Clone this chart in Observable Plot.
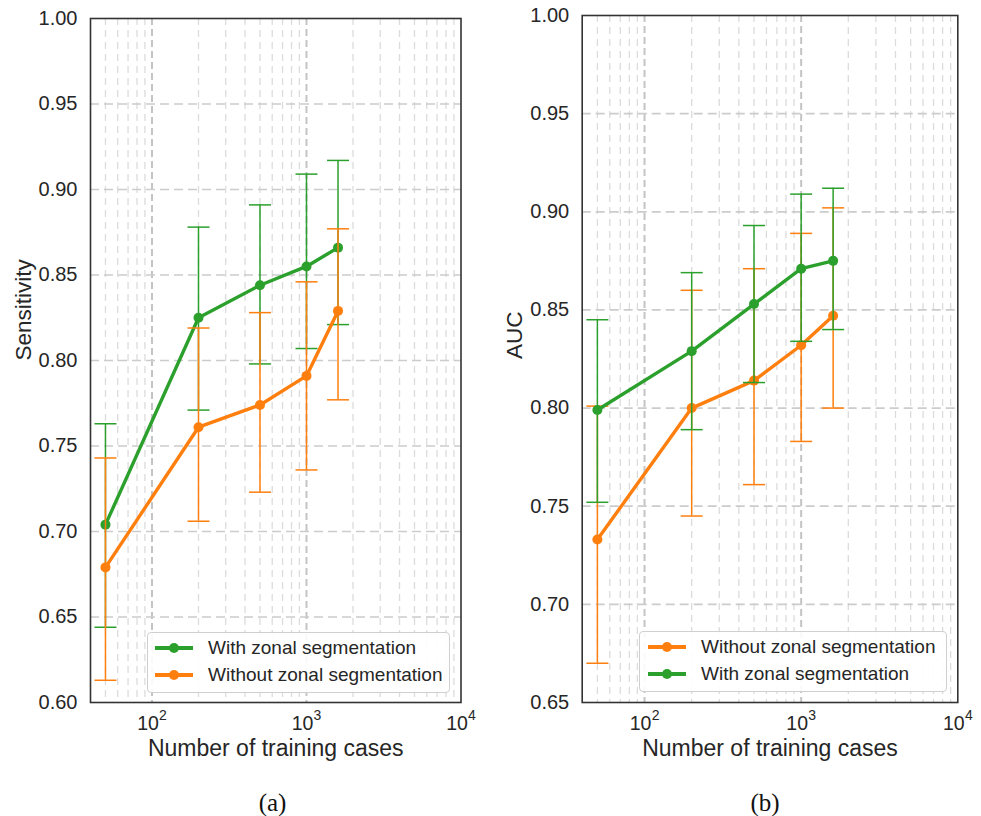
<!DOCTYPE html>
<html>
<head>
<meta charset="utf-8">
<script src="https://cdn.jsdelivr.net/npm/d3@7"></script>
<script src="https://cdn.jsdelivr.net/npm/@observablehq/plot@0.6"></script>
<style>
  body { margin: 0; background: white; }
  #fig { position: relative; width: 981px; height: 816px; overflow: hidden; font-family: 'Liberation Sans', Arial, sans-serif; }
  .panel { position: absolute; top: 0; }
  .legend { position: absolute; border: 1px solid #d0d0d0; border-radius: 4px; background: rgba(255,255,255,0.9); box-sizing: border-box; }
  .legrow { position: absolute; left: 0; height: 20px; font-size: 19px; color: #262626; white-space: nowrap; }
  .legrow svg { position: absolute; top: 0; }
  .legrow span { position: absolute; top: -1px; line-height: 22px; }
  .cap { position: absolute; top: 788px; line-height: 30px; font-family: 'Liberation Serif', 'Times New Roman', serif; font-size: 25px; color: #111; transform: translateX(-50%); }
</style>
</head>
<body>
<div id="fig"></div>
<script>
// ---------- data ----------
const nCases = [50, 200, 500, 1000, 1600];

// (a) Sensitivity
const sensWith    = [0.704, 0.825, 0.844, 0.855, 0.866];
const sensWithLo  = [0.644, 0.771, 0.798, 0.807, 0.821];
const sensWithHi  = [0.763, 0.878, 0.891, 0.909, 0.917];
const sensWithout   = [0.679, 0.761, 0.774, 0.791, 0.829];
const sensWithoutLo = [0.613, 0.706, 0.723, 0.736, 0.777];
const sensWithoutHi = [0.743, 0.819, 0.828, 0.846, 0.877];

// (b) AUC
const aucWith    = [0.799, 0.829, 0.853, 0.871, 0.875];
const aucWithLo  = [0.752, 0.789, 0.813, 0.834, 0.840];
const aucWithHi  = [0.845, 0.869, 0.893, 0.909, 0.912];
const aucWithout   = [0.733, 0.800, 0.814, 0.832, 0.847];
const aucWithoutLo = [0.670, 0.745, 0.761, 0.783, 0.800];
const aucWithoutHi = [0.801, 0.860, 0.871, 0.889, 0.902];

const sensTicks = [0.60, 0.65, 0.70, 0.75, 0.80, 0.85, 0.90, 0.95, 1.00];
const aucTicks  = [0.65, 0.70, 0.75, 0.80, 0.85, 0.90, 0.95, 1.00];
const xMajor = [100, 1000, 10000];
const xMinor = [50, 60, 70, 80, 90, 200, 300, 400, 500, 600, 700, 800, 900,
                2000, 3000, 4000, 5000, 6000, 7000, 8000, 9000];

const labelWith = "With zonal segmentation";
const labelWithout = "Without zonal segmentation";
const GREEN = "#2ca02c", ORANGE = "#ff7f0e";

// ---------- helpers ----------
function rows(mean, lo, hi) {
  return nCases.map((n, i) => ({n, v: mean[i], lo: lo[i], hi: hi[i]}));
}
const capSymbol = { draw(ctx) { ctx.moveTo(-11, 0); ctx.lineTo(11, 0); } };

function seriesMarks(data, color) {
  return [
    Plot.ruleX(data, {x: "n", y1: "lo", y2: "hi", stroke: color, strokeWidth: 1.5}),
    Plot.dot(data, {x: "n", y: "lo", symbol: capSymbol, stroke: color, strokeWidth: 1.5, fill: "none"}),
    Plot.dot(data, {x: "n", y: "hi", symbol: capSymbol, stroke: color, strokeWidth: 1.5, fill: "none"}),
    Plot.line(data, {x: "n", y: "v", stroke: color, strokeWidth: 3.4}),
    Plot.dot(data, {x: "n", y: "v", r: 5, fill: color, stroke: "none"})
  ];
}

function panel({width, ml, mr, mt, yDomain, yTicks, ylabel, series}) {
  const bottom = 702;
  return Plot.plot({
    width, height: 816,
    marginLeft: ml, marginRight: mr, marginTop: mt, marginBottom: 816 - bottom,
    x: {type: "log", domain: [40, 10000], axis: null},
    y: {domain: yDomain, axis: null},
    style: {fontFamily: "'Liberation Sans', Arial, sans-serif", color: "#262626", background: "transparent", overflow: "visible"},
    marks: [
      Plot.ruleX(xMinor, {stroke: "#dcdcdc", strokeWidth: 1.3, strokeDasharray: "7,5"}),
      Plot.ruleX(xMajor.slice(0, 2), {stroke: "#c4c4c4", strokeWidth: 2, strokeDasharray: "7,4"}),
      Plot.ruleY(yTicks.slice(1, -1), {stroke: "#cccccc", strokeWidth: 1.7, strokeDasharray: "9,5"}),
      Plot.axisY({ticks: yTicks, tickFormat: d => d.toFixed(2), tickSize: 0, tickPadding: 13, fontSize: 20, label: null}),
      Plot.text(xMajor, {x: d => d, text: () => "10", frameAnchor: "bottom", dy: 27, dx: -4, fontSize: 19.5}),
      Plot.text(xMajor, {x: d => d, text: d => String(Math.round(Math.log10(d))), frameAnchor: "bottom", dy: 17, dx: 11, fontSize: 14}),
      Plot.text([ylabel], {text: d => d, frameAnchor: "left", rotate: -90, dx: -67, fontSize: 22.5}),
      Plot.text(["Number of training cases"], {text: d => d, frameAnchor: "bottom", dy: 53, fontSize: 23}),
      ...series.flatMap(s => seriesMarks(s.data, s.color)),
      Plot.frame({stroke: "#333", strokeWidth: 1.6})
    ]
  });
}

function legend(left, top, width, items, sampleLeft, textLeft) {
  const box = document.createElement("div");
  box.className = "legend";
  Object.assign(box.style, {left: left + "px", top: top + "px", width: width + "px", height: "61px"});
  items.forEach((it, i) => {
    const row = document.createElement("div");
    row.className = "legrow";
    row.style.top = (i === 0 ? 4.5 : 32) + "px";
    row.style.width = width + "px";
    row.innerHTML =
      `<svg width="40" height="20" style="left:${sampleLeft}px"><line x1="0" y1="10" x2="38" y2="10" stroke="${it.color}" stroke-width="4"/><circle cx="19" cy="10" r="5" fill="${it.color}"/></svg>` +
      `<span style="left:${textLeft}px">${it.label}</span>`;
    box.appendChild(row);
  });
  return box;
}

// ---------- build ----------
const fig = document.getElementById("fig");

const left = panel({
  width: 490, ml: 90, mr: 29.5, mt: 18,
  yDomain: [0.60, 1.00], yTicks: sensTicks, ylabel: "Sensitivity",
  series: [
    {data: rows(sensWith, sensWithLo, sensWithHi), color: GREEN},
    {data: rows(sensWithout, sensWithoutLo, sensWithoutHi), color: ORANGE}
  ]
});
left.classList.add("panel"); left.style.left = "0px";
fig.appendChild(left);

const right = panel({
  width: 491, ml: 91.7, mr: 23.7, mt: 15,
  yDomain: [0.65, 1.00], yTicks: aucTicks, ylabel: "AUC",
  series: [
    {data: rows(aucWithout, aucWithoutLo, aucWithoutHi), color: ORANGE},
    {data: rows(aucWith, aucWithLo, aucWithHi), color: GREEN}
  ]
});
right.classList.add("panel"); right.style.left = "490px";
fig.appendChild(right);

fig.appendChild(legend(147, 632, 303, [{label: labelWith, color: GREEN}, {label: labelWithout, color: ORANGE}], 7, 60));
fig.appendChild(legend(639, 631, 308, [{label: labelWithout, color: ORANGE}, {label: labelWith, color: GREEN}], 8, 61));

for (const [t, x] of [["(a)", 272.5], ["(b)", 765]]) {
  const c = document.createElement("div");
  c.className = "cap"; c.textContent = t; c.style.left = x + "px";
  fig.appendChild(c);
}
</script>
</body>
</html>
